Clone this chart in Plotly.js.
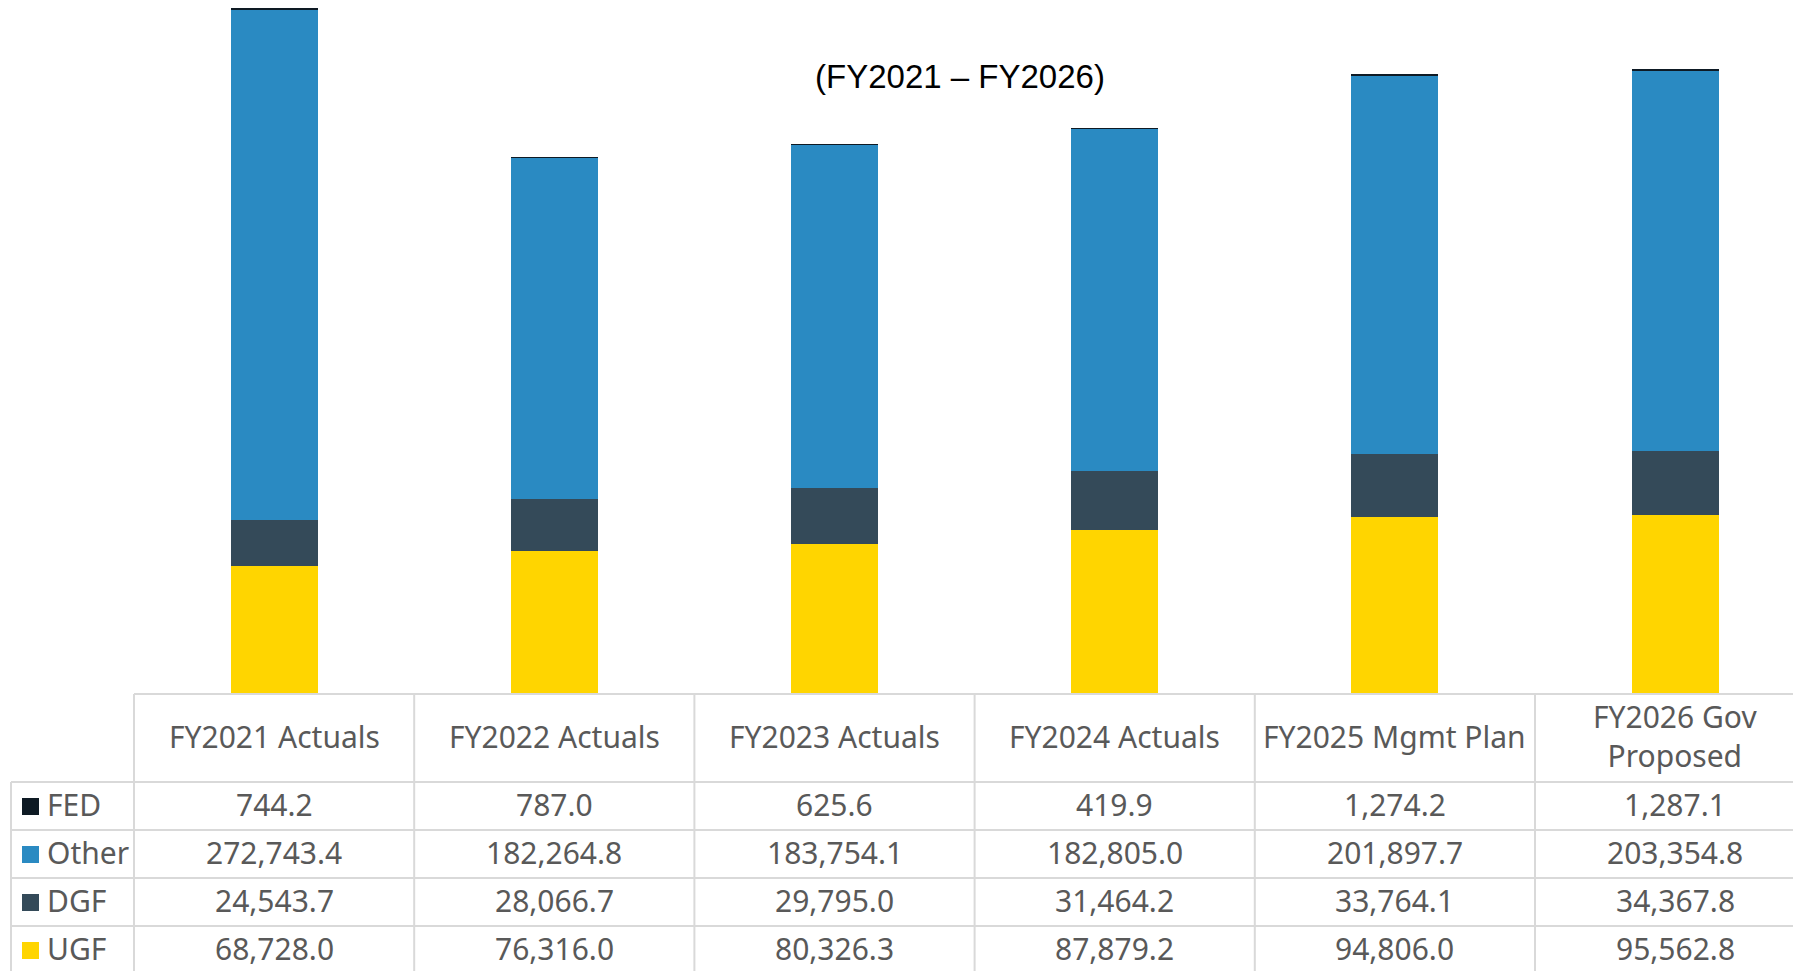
<!DOCTYPE html>
<html>
<head>
<meta charset="utf-8">
<script src="https://cdn.plot.ly/plotly-3.0.1.min.js"></script>
<style>
  html, body { margin: 0; padding: 0; background: #ffffff; }
  #chart { width: 1793px; height: 971px; }
</style>
</head>
<body>
<div id="chart"></div>
<script>
// ---------- data ----------
const categories = ["FY2021 Actuals", "FY2022 Actuals", "FY2023 Actuals", "FY2024 Actuals", "FY2025 Mgmt Plan", "FY2026 Gov<br>Proposed"];
const fedValues   = [744.2, 787.0, 625.6, 419.9, 1274.2, 1287.1];
const otherValues = [272743.4, 182264.8, 183754.1, 182805.0, 201897.7, 203354.8];
const dgfValues   = [24543.7, 28066.7, 29795.0, 31464.2, 33764.1, 34367.8];
const ugfValues   = [68728.0, 76316.0, 80326.3, 87879.2, 94806.0, 95562.8];
const seriesNames = ["FED", "Other", "DGF", "UGF"];
const titleText = "(FY2021 – FY2026)";

// ---------- styles ----------
const colors = { FED: "#0E1A24", Other: "#2A8AC2", DGF: "#344A59", UGF: "#FFD500" };
const W = 1793, H = 971;
const plotLeft = 134, plotBottom = 694;
const colW = 280.2;
const xMin = -0.5, xMax = -0.5 + (W - plotLeft) / colW;
const yMax = 371300;
const gridColor = "#D9D9D9";
const textColor = "#595959";
const tableFont = { family: "Noto Sans, sans-serif", size: 30, color: textColor };

const valuesBySeries = { FED: fedValues, Other: otherValues, DGF: dgfValues, UGF: ugfValues };
const x = categories.map((c, i) => i);

// stacked from bottom: UGF, DGF, Other, FED
const traces = ["UGF", "DGF", "Other", "FED"].map(name => ({
  type: "bar",
  name: name,
  x: x,
  y: valuesBySeries[name],
  width: 0.31,
  marker: { color: colors[name], line: { width: 0 } },
  hoverinfo: "name+y"
}));

// helpers: pixel -> paper
const py = p => 1 - p / H;                       // paper y from pixel y
const px = p => (p - plotLeft) / (W - plotLeft);  // paper x from pixel x
const xToPaper = v => (v - xMin) / (xMax - xMin);

const headerTop = 694, headerBottom = 782, rowH = 48;
const shapes = [];
const annotations = [];

function hline(yPix, x0Paper) {
  shapes.push({ type: "line", xref: "paper", yref: "paper", x0: x0Paper, x1: 1, y0: py(yPix), y1: py(yPix),
    line: { color: gridColor, width: 2 } });
}
function vline(xPaper, y0Pix) {
  shapes.push({ type: "line", xref: "paper", yref: "paper", x0: xPaper, x1: xPaper, y0: py(y0Pix), y1: 0,
    line: { color: gridColor, width: 2 } });
}

hline(headerTop, 0);
for (let r = 0; r < 4; r++) hline(headerBottom + r * rowH, px(11));
vline(px(11), headerBottom);
for (let i = 0; i < categories.length; i++) vline(xToPaper(i - 0.5), headerTop);

// header labels
categories.forEach((c, i) => {
  annotations.push({ xref: "x", yref: "paper", x: i, y: py((headerTop + headerBottom) / 2 - 2),
    text: c, showarrow: false, font: tableFont, xanchor: "center", yanchor: "middle", align: "center" });
});

// rows
const fmt = v => v.toLocaleString("en-US", { minimumFractionDigits: 1, maximumFractionDigits: 1 });
seriesNames.forEach((name, r) => {
  const yc = headerBottom + r * rowH + rowH / 2;
  // legend key square
  shapes.push({ type: "rect", xref: "paper", yref: "paper",
    x0: px(22), x1: px(39), y0: py(yc - 8), y1: py(yc + 9),
    fillcolor: colors[name], line: { width: 0 } });
  annotations.push({ xref: "paper", yref: "paper", x: px(45), y: py(yc - 2), text: name, showarrow: false,
    font: tableFont, xanchor: "left", yanchor: "middle" });
  valuesBySeries[name].forEach((v, i) => {
    annotations.push({ xref: "x", yref: "paper", x: i, y: py(yc - 2), text: fmt(v), showarrow: false,
      font: tableFont, xanchor: "center", yanchor: "middle" });
  });
});

const layout = {
  width: W, height: H,
  margin: { l: plotLeft, r: 0, t: 0, b: 0, pad: 0 },
  paper_bgcolor: "#ffffff",
  plot_bgcolor: "#ffffff",
  barmode: "stack",
  showlegend: false,
  title: { text: titleText, xref: "container", yref: "container", x: 960 / W, y: 1 - 76 / H,
    xanchor: "center", yanchor: "middle",
    font: { family: "Liberation Sans, Arial, sans-serif", size: 33, color: "#000000" } },
  xaxis: { range: [xMin, xMax], showticklabels: false, showgrid: false, zeroline: false, showline: false, ticks: "", fixedrange: true },
  yaxis: { domain: [1 - plotBottom / H, 1], range: [0, yMax], showticklabels: false, showgrid: false, zeroline: false, showline: false, ticks: "", fixedrange: true },
  shapes: shapes,
  annotations: annotations
};

Plotly.newPlot("chart", traces, layout, { displayModeBar: false, staticPlot: true });
</script>
</body>
</html>
